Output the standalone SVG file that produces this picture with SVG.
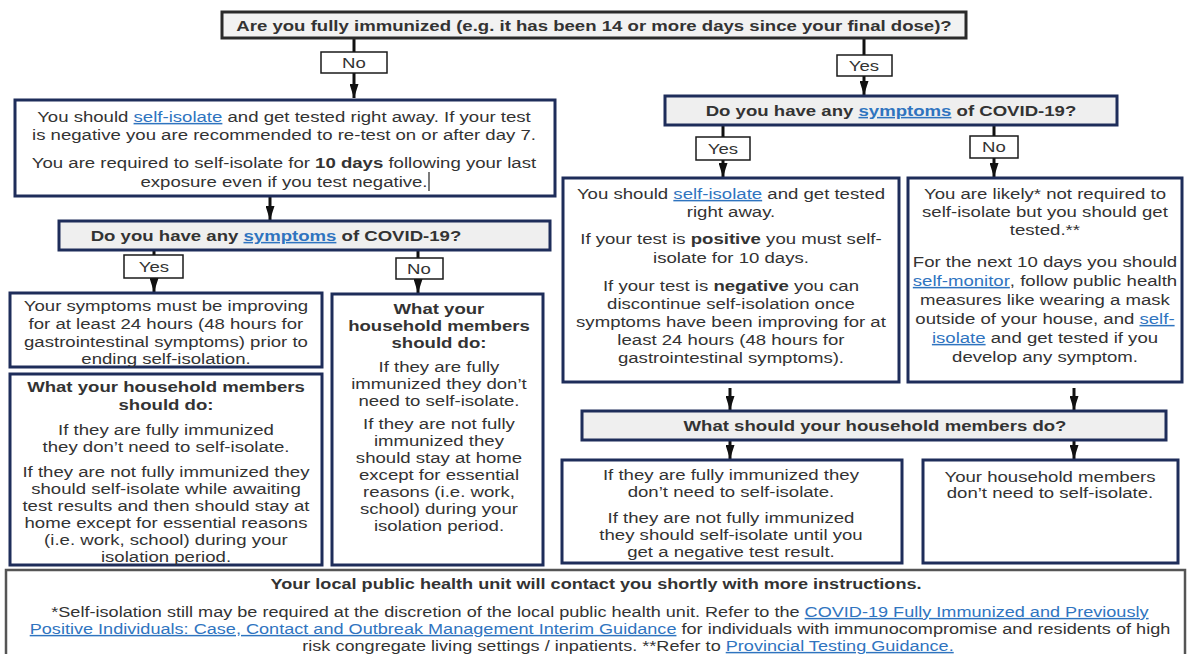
<svg xmlns="http://www.w3.org/2000/svg" width="1189" height="654" viewBox="0 0 1189 654">
<style>
.bg{fill:#fff}
.box{fill:#fff;stroke:#1e2d5a;stroke-width:3}
.q{fill:#efefef;stroke:#1e2d5a;stroke-width:3}
.hdr{fill:#f2f2f2;stroke:#2a2a2a;stroke-width:3}
.lbl{fill:#fff;stroke:#1a1a1a;stroke-width:1.5}
.ft{fill:#fff;stroke:#555;stroke-width:2.5}
.t{font-family:"Liberation Sans",Arial,sans-serif;font-size:15px;fill:#333;text-anchor:middle;transform-box:fill-box;transform-origin:center;transform:scaleX(1.24)}
.s{font-size:14.6px}
.b{font-weight:bold}
.lk{fill:#2f74bf;text-decoration:underline}
.c{stroke:#111;stroke-width:3;fill:none}
.cm{stroke:#111;stroke-width:3;fill:none;marker-end:url(#ah)}
</style>
<defs>
<marker id="ah" markerUnits="userSpaceOnUse" viewBox="0 0 14 9" refX="14" refY="4.5" markerWidth="14" markerHeight="9" orient="auto">
<path d="M0,0 L14,4.5 L0,9 Z" fill="#111"/>
</marker>
</defs>
<rect class="bg" x="0" y="0" width="1189" height="654"/>

<g id="connectors">
<line class="c" x1="354" y1="38" x2="354" y2="52"/>
<line class="cm" x1="354" y1="73" x2="354" y2="98"/>
<line class="c" x1="864" y1="38" x2="864" y2="55"/>
<line class="cm" x1="864" y1="76" x2="864" y2="95"/>
<line class="cm" x1="270" y1="196" x2="270" y2="220"/>
<line class="c" x1="154" y1="250" x2="154" y2="255"/>
<line class="cm" x1="154" y1="278" x2="154" y2="292"/>
<line class="c" x1="418" y1="250" x2="418" y2="258"/>
<line class="cm" x1="418" y1="279" x2="418" y2="293"/>
<line class="c" x1="723" y1="125" x2="723" y2="137"/>
<line class="cm" x1="723" y1="160" x2="723" y2="177"/>
<line class="c" x1="994" y1="125" x2="994" y2="136"/>
<line class="cm" x1="994" y1="158" x2="994" y2="177"/>
<line class="cm" x1="730" y1="388" x2="730" y2="410"/>
<line class="cm" x1="1074" y1="388" x2="1074" y2="410"/>
<line class="cm" x1="730" y1="440" x2="730" y2="459"/>
<line class="cm" x1="1074" y1="440" x2="1074" y2="459"/>
</g>

<g id="header">
<rect class="hdr" x="222" y="12" width="744" height="26"/>
<text class="t b" x="594" y="31">Are you fully immunized (e.g. it has been 14 or more days since your final dose)?</text>
</g>

<g id="label-no-1">
<rect class="lbl" x="321" y="52" width="66" height="21"/>
<text class="t" x="354" y="68">No</text>
</g>
<g id="label-yes-1">
<rect class="lbl" x="837" y="55" width="55" height="21"/>
<text class="t" x="864" y="71">Yes</text>
</g>

<g id="not-immunized">
<rect class="box" x="15" y="100" width="540" height="96"/>
<text class="t" x="284" y="122">You should <tspan class="lk">self-isolate</tspan> and get tested right away. If your test</text>
<text class="t" x="284" y="140">is negative you are recommended to re-test on or after day 7.</text>
<text class="t" x="284" y="168">You are required to self-isolate for <tspan class="b">10 days</tspan> following your last</text>
<text class="t" x="284" y="187">exposure even if you test negative.</text>
<line x1="429" y1="172" x2="429" y2="191" stroke="#222" stroke-width="1.2"/>
</g>

<g id="symptoms-left">
<rect class="q" x="59" y="221" width="491" height="29"/>
<text class="t b" x="276" y="241">Do you have any <tspan class="lk">symptoms</tspan> of COVID-19?</text>
</g>

<g id="label-yes-2">
<rect class="lbl" x="124" y="255" width="59" height="23"/>
<text class="t" x="154" y="272">Yes</text>
</g>
<g id="label-no-2">
<rect class="lbl" x="396" y="258" width="47" height="21"/>
<text class="t" x="419" y="274">No</text>
</g>

<g id="symptoms-improving">
<rect class="box" x="10" y="293" width="312" height="74"/>
<text class="t" x="166" y="311">Your symptoms must be improving</text>
<text class="t" x="166" y="329">for at least 24 hours (48 hours for</text>
<text class="t" x="166" y="347">gastrointestinal symptoms) prior to</text>
<text class="t" x="166" y="364">ending self-isolation.</text>
</g>

<g id="household-left">
<rect class="box" x="10" y="374" width="312" height="191"/>
<text class="t b" x="166" y="392">What your household members</text>
<text class="t b" x="166" y="410">should do:</text>
<text class="t" x="166" y="435">If they are fully immunized</text>
<text class="t" x="166" y="452">they don’t need to self-isolate.</text>
<text class="t" x="166" y="477">If they are not fully immunized they</text>
<text class="t" x="166" y="494">should self-isolate while awaiting</text>
<text class="t" x="166" y="511">test results and then should stay at</text>
<text class="t" x="166" y="528">home except for essential reasons</text>
<text class="t" x="166" y="545">(i.e. work, school) during your</text>
<text class="t" x="166" y="562">isolation period.</text>
</g>

<g id="household-middle">
<rect class="box" x="332" y="294" width="211" height="271"/>
<text class="t b" x="439" y="314">What your</text>
<text class="t b" x="439" y="331">household members</text>
<text class="t b" x="439" y="348">should do:</text>
<text class="t" x="439" y="372">If they are fully</text>
<text class="t" x="439" y="389">immunized they don’t</text>
<text class="t" x="439" y="406">need to self-isolate.</text>
<text class="t" x="439" y="429">If they are not fully</text>
<text class="t" x="439" y="446">immunized they</text>
<text class="t" x="439" y="463">should stay at home</text>
<text class="t" x="439" y="480">except for essential</text>
<text class="t" x="439" y="497">reasons (i.e. work,</text>
<text class="t" x="439" y="514">school) during your</text>
<text class="t" x="439" y="531">isolation period.</text>
</g>

<g id="symptoms-right">
<rect class="q" x="665" y="96" width="452" height="29"/>
<text class="t b" x="891" y="116">Do you have any <tspan class="lk">symptoms</tspan> of COVID-19?</text>
</g>

<g id="label-yes-3">
<rect class="lbl" x="696" y="137" width="54" height="23"/>
<text class="t" x="723" y="154">Yes</text>
</g>
<g id="label-no-3">
<rect class="lbl" x="970" y="136" width="48" height="22"/>
<text class="t" x="994" y="152">No</text>
</g>

<g id="yes-symptoms">
<rect class="box" x="563" y="178" width="336" height="204"/>
<text class="t" x="731" y="199">You should <tspan class="lk">self-isolate</tspan> and get tested</text>
<text class="t" x="731" y="217">right away.</text>
<text class="t" x="731" y="244">If your test is <tspan class="b">positive</tspan> you must self-</text>
<text class="t" x="731" y="263">isolate for 10 days.</text>
<text class="t" x="731" y="291">If your test is <tspan class="b">negative</tspan> you can</text>
<text class="t" x="731" y="309">discontinue self-isolation once</text>
<text class="t" x="731" y="327">symptoms have been improving for at</text>
<text class="t" x="731" y="345">least 24 hours (48 hours for</text>
<text class="t" x="731" y="363">gastrointestinal symptoms).</text>
</g>

<g id="no-symptoms">
<rect class="box" x="908" y="178" width="274" height="204"/>
<text class="t" x="1045" y="199">You are likely* not required to</text>
<text class="t" x="1045" y="217">self-isolate but you should get</text>
<text class="t" x="1045" y="235">tested.**</text>
<text class="t" x="1045" y="267">For the next 10 days you should</text>
<text class="t" x="1045" y="286"><tspan class="lk">self-monitor</tspan>, follow public health</text>
<text class="t" x="1045" y="305">measures like wearing a mask</text>
<text class="t" x="1045" y="324">outside of your house, and <tspan class="lk">self-</tspan></text>
<text class="t" x="1045" y="343"><tspan class="lk">isolate</tspan> and get tested if you</text>
<text class="t" x="1045" y="362">develop any symptom.</text>
</g>

<g id="household-question">
<rect class="q" x="582" y="411" width="584" height="29"/>
<text class="t b" x="875" y="431">What should your household members do?</text>
</g>

<g id="household-yes">
<rect class="box" x="562" y="460" width="340" height="103"/>
<text class="t" x="731" y="480">If they are fully immunized they</text>
<text class="t" x="731" y="497">don’t need to self-isolate.</text>
<text class="t" x="731" y="523">If they are not fully immunized</text>
<text class="t" x="731" y="540">they should self-isolate until you</text>
<text class="t" x="731" y="557">get a negative test result.</text>
</g>

<g id="household-no">
<rect class="box" x="923" y="460" width="255" height="103"/>
<text class="t" x="1050" y="482">Your household members</text>
<text class="t" x="1050" y="498">don’t need to self-isolate.</text>
</g>

<g id="footer">
<rect class="ft" x="6" y="570" width="1179" height="92"/>
<text class="t s b" x="596" y="589">Your local public health unit will contact you shortly with more instructions.</text>
<text class="t s" x="600" y="617">*Self-isolation still may be required at the discretion of the local public health unit. Refer to the <tspan class="lk">COVID-19 Fully Immunized and Previously</tspan></text>
<text class="t s" x="600" y="634"><tspan class="lk">Positive Individuals: Case, Contact and Outbreak Management Interim Guidance</tspan> for individuals with immunocompromise and residents of high</text>
<text class="t s" x="628" y="651">risk congregate living settings / inpatients. **Refer to <tspan class="lk">Provincial Testing Guidance.</tspan></text>
</g>
</svg>
